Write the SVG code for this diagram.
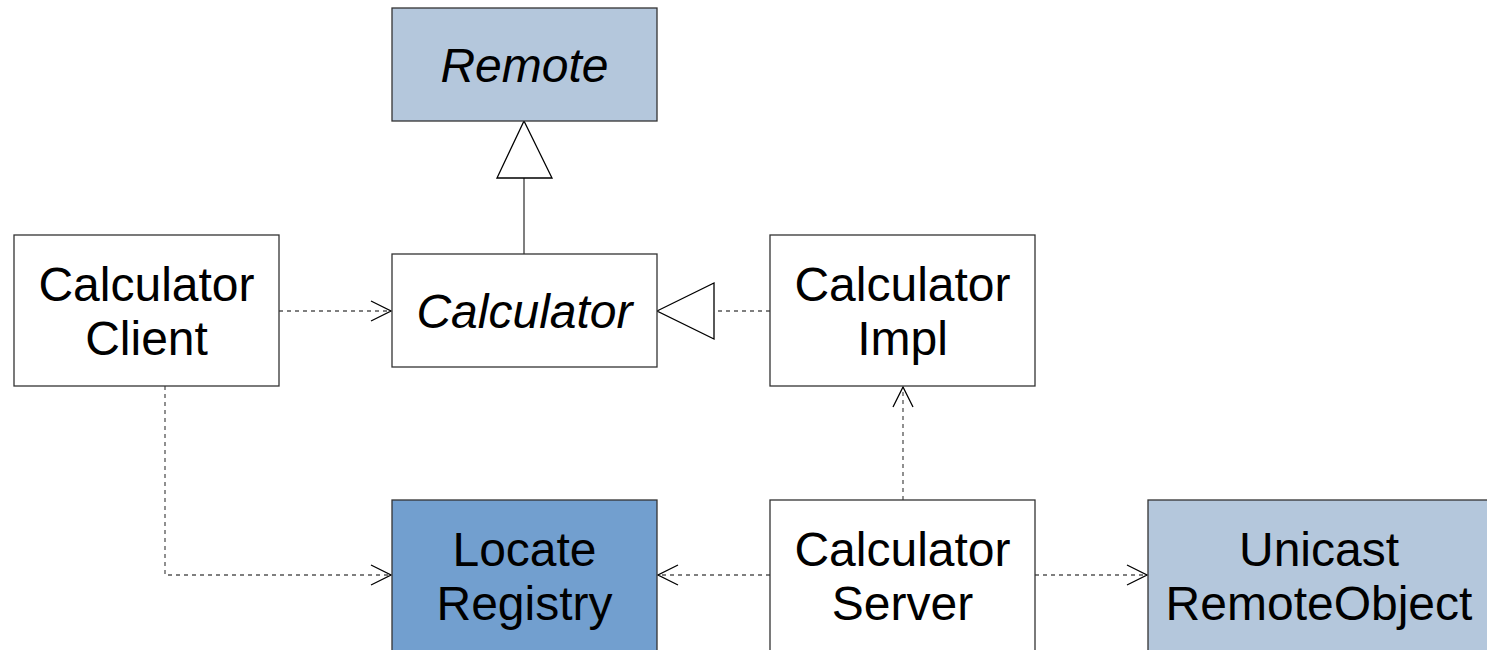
<svg xmlns="http://www.w3.org/2000/svg" width="1487" height="650" viewBox="0 0 1487 650">
  <style>
    .box { stroke: #333333; stroke-width: 1.3; }
    .plain { fill: #ffffff; }
    .iface { fill: #b4c7dc; }
    .util { fill: #729fcf; }
    text { font-family: "Liberation Sans", Arial, sans-serif; font-size: 48px; fill: #000000; text-anchor: middle; }
    .it { font-style: italic; }
    .dash { fill: none; stroke: #555555; stroke-width: 1.3; stroke-dasharray: 4 4; }
    .solid { fill: none; stroke: #555555; stroke-width: 1.5; }
    .head { fill: none; stroke: #000000; stroke-width: 1.3; }
    .tri { fill: #ffffff; stroke: #000000; stroke-width: 1.3; }
  </style>
  <defs>
    <marker id="open" viewBox="0 0 22 22" refX="21" refY="11" markerWidth="22" markerHeight="22" markerUnits="userSpaceOnUse" orient="auto">
      <path d="M1 1 L21 11 L1 21" class="head"/>
    </marker>
  </defs>
  <rect width="1487" height="650" fill="#ffffff"/>

  <g id="connectors">
    <!-- Calculator extends Remote -->
    <line x1="524" y1="254" x2="524" y2="178" class="solid"/>
    <polygon points="524,121 552,178 497,178" class="tri"/>
    <!-- CalculatorImpl implements Calculator -->
    <line x1="770" y1="311" x2="714" y2="311" class="dash"/>
    <polygon points="657,311 714,283 714,339" class="tri"/>
    <!-- dependencies -->
    <line x1="279" y1="311" x2="391" y2="311" class="dash" marker-end="url(#open)"/>
    <polyline points="165,386 165,575 391,575" class="dash" marker-end="url(#open)"/>
    <line x1="903" y1="500" x2="903" y2="387" class="dash" marker-end="url(#open)"/>
    <line x1="770" y1="575" x2="658" y2="575" class="dash" marker-end="url(#open)"/>
    <line x1="1035" y1="575" x2="1147" y2="575" class="dash" marker-end="url(#open)"/>
  </g>

  <g id="remote">
    <rect x="392" y="8" width="265" height="113" class="box iface"/>
    <text x="524.5" y="82" class="it">Remote</text>
  </g>

  <g id="calculator">
    <rect x="392" y="254" width="265" height="113" class="box plain"/>
    <text x="524.5" y="328" class="it">Calculator</text>
  </g>

  <g id="calculator-client">
    <rect x="14" y="235" width="265" height="151" class="box plain"/>
    <text x="146.5" y="301">Calculator</text>
    <text x="146.5" y="355">Client</text>
  </g>

  <g id="calculator-impl">
    <rect x="770" y="235" width="265" height="151" class="box plain"/>
    <text x="902.5" y="301">Calculator</text>
    <text x="902.5" y="355">Impl</text>
  </g>

  <g id="locate-registry">
    <rect x="392" y="500" width="265" height="160" class="box util"/>
    <text x="524.5" y="566">Locate</text>
    <text x="524.5" y="620">Registry</text>
  </g>

  <g id="calculator-server">
    <rect x="770" y="500" width="265" height="160" class="box plain"/>
    <text x="902.5" y="566">Calculator</text>
    <text x="902.5" y="620">Server</text>
  </g>

  <g id="unicast-remote-object">
    <rect x="1148" y="500" width="350" height="160" class="box iface"/>
    <text x="1319" y="566">Unicast</text>
    <text x="1319" y="620">RemoteObject</text>
  </g>
</svg>
